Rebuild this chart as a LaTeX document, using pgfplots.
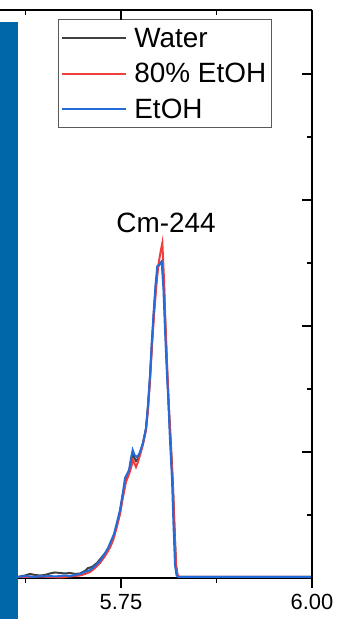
\documentclass[border=0pt]{standalone}
\usepackage{pgfplots}
\pgfplotsset{compat=1.18}
\usepackage{fontspec}
\setmainfont{Liberation Sans}

\definecolor{wgray}{RGB}{64,64,64}
\definecolor{ered}{RGB}{240,62,62}
\definecolor{eblue}{RGB}{36,106,216}
\definecolor{barblue}{RGB}{0,103,169}

% alpha spectra: energy (MeV) vs counts (arb. units)
\pgfplotstableread{
x y
5.6100 0.008
5.6152 0.008
5.6243 0.020
5.6309 0.032
5.6374 0.024
5.6440 0.020
5.6505 0.024
5.6571 0.036
5.6636 0.044
5.6702 0.040
5.6767 0.036
5.6832 0.040
5.6898 0.032
5.6963 0.036
5.7029 0.056
5.7068 0.079
5.7120 0.087
5.7186 0.119
5.7251 0.167
5.7317 0.214
5.7356 0.246
5.7395 0.302
5.7448 0.421
5.7487 0.524
5.7526 0.667
5.7565 0.786
5.7605 0.841
5.7631 0.921
5.7657 0.976
5.7696 0.929
5.7722 0.944
5.7749 0.992
5.7788 1.071
5.7827 1.183
5.7853 1.357
5.7880 1.595
5.7906 1.873
5.7932 2.127
5.7958 2.341
5.7984 2.470
5.8010 2.495
5.8037 2.515
5.8063 2.302
5.8082 1.984
5.8108 1.595
5.8128 1.333
5.8154 1.048
5.8181 0.714
5.8200 0.397
5.8220 0.103
5.8239 0.024
5.8259 0.008
5.8338 0.008
5.9188 0.008
6.0000 0.008
}\water

\pgfplotstableread{
x y
5.6100 0.008
5.6152 0.008
5.6309 0.008
5.6440 0.012
5.6571 0.008
5.6702 0.004
5.6832 0.012
5.6963 0.020
5.7029 0.032
5.7094 0.048
5.7160 0.079
5.7225 0.119
5.7291 0.175
5.7330 0.214
5.7369 0.262
5.7408 0.325
5.7448 0.413
5.7487 0.508
5.7526 0.643
5.7565 0.762
5.7605 0.825
5.7631 0.873
5.7657 0.937
5.7696 0.881
5.7722 0.921
5.7749 0.976
5.7788 1.063
5.7827 1.175
5.7853 1.333
5.7880 1.571
5.7906 1.849
5.7932 2.087
5.7958 2.286
5.7984 2.460
5.8010 2.563
5.8041 2.659
5.8063 2.365
5.8082 2.008
5.8108 1.611
5.8128 1.333
5.8154 1.032
5.8181 0.698
5.8200 0.381
5.8220 0.103
5.8239 0.024
5.8259 0.008
5.8338 0.008
5.9188 0.008
6.0000 0.008
}\ethsolution

\pgfplotstableread{
x y
5.6100 0.010
5.6152 0.008
5.6243 0.016
5.6309 0.012
5.6374 0.008
5.6440 0.016
5.6505 0.012
5.6571 0.016
5.6636 0.012
5.6702 0.016
5.6767 0.020
5.6832 0.016
5.6898 0.024
5.6963 0.032
5.7029 0.048
5.7094 0.063
5.7160 0.095
5.7225 0.135
5.7291 0.198
5.7330 0.238
5.7369 0.294
5.7408 0.349
5.7448 0.444
5.7487 0.540
5.7526 0.683
5.7552 0.794
5.7579 0.825
5.7605 0.857
5.7631 0.952
5.7653 1.016
5.7677 0.976
5.7705 0.960
5.7729 0.976
5.7749 1.000
5.7788 1.071
5.7827 1.190
5.7853 1.373
5.7880 1.611
5.7902 1.865
5.7925 2.087
5.7952 2.325
5.7975 2.476
5.7997 2.484
5.8033 2.508
5.8056 2.286
5.8076 1.968
5.8102 1.611
5.8119 1.413
5.8141 1.095
5.8168 0.778
5.8187 0.421
5.8207 0.103
5.8226 0.024
5.8246 0.008
5.8338 0.008
5.8534 0.008
5.9188 0.008
6.0000 0.008
}\ethanol

\pgfplotsset{
  specframe/.style={
    scale only axis, width=312bp, height=568bp,
    at={(0,0)}, anchor=south west,
    xmin=5.5916, xmax=6.0, ymin=0, ymax=4.508,
    xtick={5.75,6.0}, minor xtick={5.625,5.875},
    ytick={1,2,3,4}, minor ytick={0.5,1.5,2.5,3.5},
    yticklabels={},
    major tick length=10bp, minor tick length=5bp,
    tick style={black, line width=1.3bp},
    axis line style={black, line width=1.3bp},
  }
}

\begin{document}
\begin{tikzpicture}
\begin{axis}[specframe, name=ax,
    axis x line*=bottom, axis y line=none,
    tick align=outside,
    xticklabels={5.75,6.00},
    xticklabel style={font=\fontsize{22}{26}\selectfont, yshift=-3bp},
    clip=false,
    legend style={at={(0.1859,0.9842)}, anchor=north west,
      draw=black!65, line width=0.8bp, fill=white,
      font=\fontsize{28}{33}\selectfont,
      inner xsep=3bp, inner ysep=6bp, row sep=10bp,
      cells={anchor=west, text height=20bp, text depth=0bp, inner ysep=0bp}},
    legend image code/.code={%
      \draw[#1, line width=2bp] (0bp,0bp) -- (64bp,0bp);},
  ]
  \addplot[wgray, line width=2bp] table[x=x, y=y] {\water};
  \addlegendentry{\hspace{5bp}Water}
  \addplot[ered, line width=2bp] table[x=x, y=y] {\ethsolution};
  \addlegendentry{\hspace{5bp}80\% EtOH}
  \addplot[eblue, line width=2bp] table[x=x, y=y] {\ethanol};
  \addlegendentry{\hspace{5bp}EtOH}
  \node[font=\fontsize{28}{33}\selectfont] at (axis cs:5.8089,2.821) {Cm-244};
  \fill[barblue] (rel axis cs:0,-0.0722) rectangle (rel axis cs:0.0561,0.9789);
\end{axis}
\begin{axis}[specframe,
    axis x line*=top, axis y line*=right,
    tick align=inside,
    xticklabels={},
  ]
\end{axis}
\pgfresetboundingbox
\path (ax.south west) ++(0,-41bp) rectangle ++(339bp,619bp);
\end{tikzpicture}
\end{document}
